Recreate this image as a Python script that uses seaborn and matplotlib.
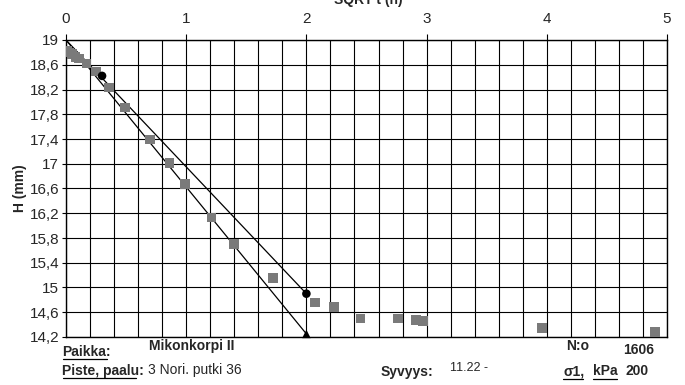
import matplotlib
matplotlib.use("Agg")
import matplotlib.pyplot as plt
from matplotlib.lines import Line2D
import numpy as np
import seaborn as sns

# measured points, sqrt(t) vs height
SQ_X = [0.01, 0.03, 0.05, 0.08, 0.11, 0.17, 0.25, 0.36, 0.49, 0.70, 0.86,
        0.99, 1.21, 1.40, 1.72, 2.07, 2.23, 2.45, 2.76, 2.91, 2.97, 3.96, 4.90]
SQ_H = [18.83, 18.80, 18.77, 18.73, 18.70, 18.62, 18.49, 18.23, 17.91, 17.39, 17.01,
        16.67, 16.13, 15.70, 15.15, 14.76, 14.68, 14.50, 14.50, 14.47, 14.46, 14.35, 14.28]

# construction lines
LINE1_X = [0.0, 2.0]
LINE1_H = [19.0, 14.90]
LINE2_X = [0.0, 2.0]
LINE2_H = [19.0, 14.25]
CIRCLE_X = [0.30, 2.0]
CIRCLE_H = [18.42, 14.90]
TRI_X = [2.0]
TRI_H = [14.25]

X_TICKS = [0, 1, 2, 3, 4, 5]
Y_TICKS = [19, 18.6, 18.2, 17.8, 17.4, 17, 16.6, 16.2, 15.8, 15.4, 15, 14.6, 14.2]


def fmt(v):
    s = f"{v:.1f}".rstrip("0").rstrip(".")
    return s.replace(".", ",")


sns.set_style("white")
plt.rcParams["font.family"] = ["Liberation Sans", "DejaVu Sans"]

fig = plt.figure(figsize=(6.85, 3.85), dpi=100)
ax = fig.add_axes([66 / 685, 1 - 337 / 385, (667 - 66) / 685, (337 - 40) / 385])

sns.lineplot(x=LINE1_X, y=LINE1_H, ax=ax, color="black", lw=0.9)
sns.lineplot(x=LINE2_X, y=LINE2_H, ax=ax, color="black", lw=0.9)
sns.scatterplot(x=SQ_X, y=SQ_H, ax=ax, marker="s", s=48, color="#7a7a7a",
                edgecolor="none", zorder=3)
sns.scatterplot(x=CIRCLE_X, y=CIRCLE_H, ax=ax, marker="o", s=38, color="black",
                edgecolor="none", zorder=4)
sns.scatterplot(x=TRI_X, y=TRI_H, ax=ax, marker="^", s=38, color="black",
                edgecolor="none", zorder=4, clip_on=False)

ax.set_xlim(0, 5)
ax.set_ylim(14.2, 19)
ax.set_xticks(X_TICKS)
ax.set_xticks(np.arange(0, 5.01, 0.2), minor=True)
ax.set_yticks(Y_TICKS)
ax.set_yticklabels([fmt(v) for v in Y_TICKS])
ax.xaxis.tick_top()
ax.tick_params(axis="x", which="major", top=True, length=4, width=0.8,
               labelsize=11, pad=6, color="black")
ax.tick_params(axis="x", which="minor", top=False)
ax.tick_params(axis="y", left=True, length=3, width=0.8, labelsize=11, pad=2,
               color="black")
ax.grid(True, which="both", color="black", lw=0.8)
ax.set_axisbelow(True)
for sp in ax.spines.values():
    sp.set_color("black")
    sp.set_linewidth(1.0)

ax.set_ylabel("H (mm)", fontsize=10, fontweight="bold", labelpad=2)
fig.text(368 / 685, 1.0, "SQRT t (h)", ha="center", va="center",
         fontsize=10, fontweight="bold")


# footer block
def ftxt(x, y, s, **kw):
    fig.text(x / 685, 1 - y / 385, s, va="center", **kw)


def uline(x0, x1, y):
    fig.add_artist(Line2D([x0 / 685, x1 / 685], [1 - y / 385, 1 - y / 385],
                          transform=fig.transFigure, color="black", lw=0.9))


ftxt(62, 352, "Paikka:", fontsize=10, fontweight="bold")
uline(63, 107, 359)
ftxt(149, 346, "Mikonkorpi II", fontsize=10, fontweight="bold")
ftxt(62, 371, "Piste, paalu:", fontsize=10, fontweight="bold")
uline(63, 136, 378)
ftxt(148, 370, "3 Nori. putki 36", fontsize=10)
ftxt(381, 372, "Syvyys:", fontsize=10, fontweight="bold")
ftxt(450, 368, "11.22 -", fontsize=9)
ftxt(566, 346, "N:o", fontsize=10, fontweight="bold")
ftxt(623, 350, "1606", fontsize=10, fontweight="bold")
ftxt(563, 371, "σ1,", fontsize=10, fontweight="bold")
uline(563, 583, 379)
ftxt(593, 371, "kPa", fontsize=10, fontweight="bold")
uline(593, 617, 379)
ftxt(625, 371, "200", fontsize=10, fontweight="bold")

fig.savefig("out.png", dpi=100)
